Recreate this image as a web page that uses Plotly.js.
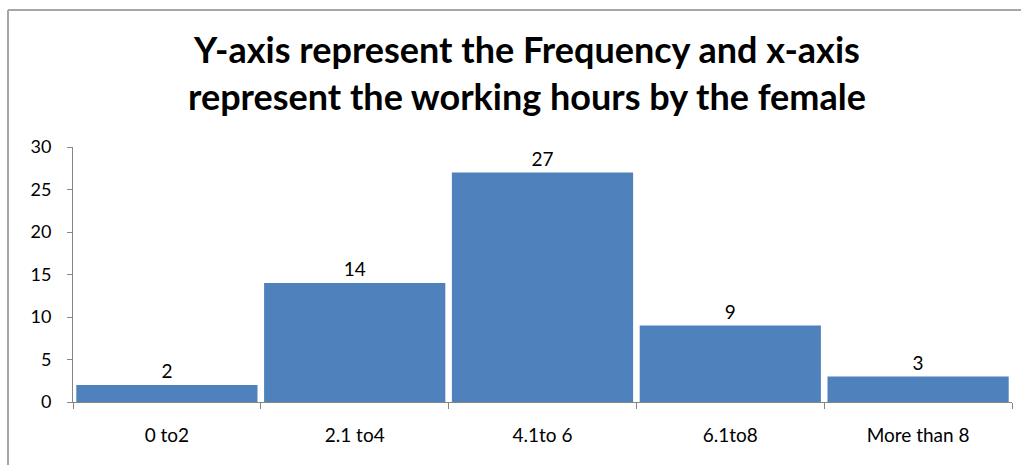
<!DOCTYPE html>
<html>
<head>
<meta charset="utf-8">
<script src="https://cdn.plot.ly/plotly-3.0.1.min.js"></script>
<style>html,body{margin:0;padding:0;background:#fff;}#chart{width:1021px;height:465px;}</style>
</head>
<body>
<div id="chart"></div>
<script>
const categories = ["0 to2", "2.1 to4", "4.1to 6", "6.1to8", "More than 8"];
const frequency = [2, 14, 27, 9, 3];
const yTicks = [0, 5, 10, 15, 20, 25, 30];
const titleText = "Y-axis represent the Frequency and x-axis<br>represent the working hours by the female";

const FONT = "Lato, Carlito, sans-serif";

const trace = {
  type: "bar",
  x: categories,
  y: frequency,
  text: frequency.map(String),
  textposition: "outside",
  cliponaxis: false,
  textfont: {family: FONT, size: 19, color: "#000"},
  marker: {color: "#4F81BD"},
  hoverinfo: "x+y"
};

// pixel helpers for the plot area
const L = 73, R = 9, T = 147, B = 63, W = 1021, H = 465;
const pw = W - L - R, ph = H - T - B;
const px = x => (x - L) / pw;
const py = y => (H - B - y) / ph;

const layout = {
  width: W,
  height: H,
  margin: {l: L, r: R, t: T, b: B},
  paper_bgcolor: "#fff",
  plot_bgcolor: "#fff",
  bargap: 0.035,
  showlegend: false,
  annotations: [{
    text: titleText,
    xref: "paper", yref: "paper",
    x: px(527), y: py(73),
    xanchor: "center", yanchor: "middle",
    showarrow: false,
    font: {family: FONT, size: 36, color: "#000", weight: "bold"}
  }],
  xaxis: {
    type: "category",
    showline: true, linecolor: "#868686", linewidth: 1,
    ticks: "outside", tickson: "boundaries", ticklen: 6, tickcolor: "#868686",
    ticklabelstandoff: 16,
    tickfont: {family: FONT, size: 19, color: "#000"},
    showgrid: false, zeroline: false, fixedrange: true
  },
  yaxis: {
    range: [0, 30],
    tickvals: yTicks,
    showline: true, linecolor: "#868686", linewidth: 1,
    ticks: "outside", ticklen: 5, tickcolor: "#868686",
    ticklabelstandoff: 12,
    tickfont: {family: FONT, size: 18, color: "#000"},
    showgrid: false, zeroline: false, fixedrange: true
  },
  shapes: [
    {type: "line", xref: "paper", yref: "paper",
     x0: px(8), x1: px(8), y0: py(H), y1: py(10),
     line: {color: "#a6a6a6", width: 2}},
    {type: "line", xref: "paper", yref: "paper",
     x0: px(8), x1: px(W), y0: py(10), y1: py(10),
     line: {color: "#a6a6a6", width: 2}}
  ]
};

Plotly.newPlot("chart", [trace], layout, {displayModeBar: false, staticPlot: true});
</script>
</body>
</html>
